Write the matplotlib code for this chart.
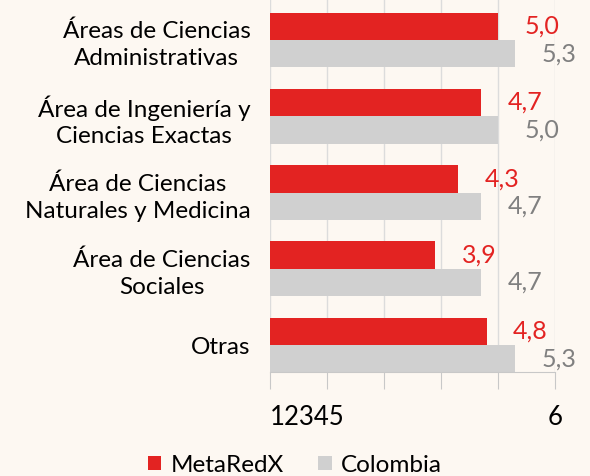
import matplotlib
matplotlib.use("Agg")
import matplotlib.pyplot as plt
import numpy as np

categories = ["Áreas de Ciencias\nAdministrativas",
              "Área de Ingeniería y\nCiencias Exactas",
              "Área de Ciencias\nNaturales y Medicina",
              "Área de Ciencias\nSociales",
              "Otras"]
metaredx = [5.0, 4.7, 4.3, 3.9, 4.8]
colombia = [5.3, 5.0, 4.7, 4.7, 5.3]
xticks = [1, 2, 3, 4, 5, 6]
xtick_labels = ["12345", "", "", "", "", "6"]

bg = "#FDF8F2"
red = "#E32322"
grey = "#D0D0D0"

plt.rcParams['font.family'] = ['Lato', 'DejaVu Sans']

fig = plt.figure(figsize=(5.9, 4.76), dpi=100, facecolor=bg)
ax = fig.add_axes([0.4576, 0.2185, 0.483, 0.7815], facecolor=bg)

y = np.arange(len(categories))
h = 0.36
ax.barh(y - h / 2, metaredx, height=h, color=red, label="MetaRedX", zorder=2)
ax.barh(y + h / 2, colombia, height=h, color=grey, label="Colombia", zorder=2)

for yi, v in zip(y, metaredx):
    ax.annotate(f"{v:.1f}".replace(".", ","), (v, yi - h / 2), xytext=(19, 0),
                textcoords="offset points", ha="left", va="center",
                fontsize=18, color=red)
for yi, v in zip(y, colombia):
    ax.annotate(f"{v:.1f}".replace(".", ","), (v, yi + h / 2), xytext=(19, 0),
                textcoords="offset points", ha="left", va="center",
                fontsize=18, color="#808080")

ax.set_xlim(1, 6)
ax.set_ylim(4.354, -0.525)
ax.set_yticks(y)
ax.set_yticklabels(categories, fontsize=17.5, multialignment="center",
                   linespacing=1.35)
ax.tick_params(axis="y", length=0, pad=14)

ax.set_xticks(xticks)
ax.set_xticklabels(xtick_labels, fontsize=18.5)
for lbl in ax.get_xticklabels():
    if lbl.get_text() == "12345":
        lbl.set_horizontalalignment("left")
ax.tick_params(axis="x", length=12, color="#C8C8C8", pad=12)
ax.grid(axis="x", color="#DCDCDC", linewidth=1, zorder=0)

for s in ["top", "right", "left"]:
    ax.spines[s].set_visible(False)
ax.spines["bottom"].set_color("#C8C8C8")

fig.legend(loc="lower center", bbox_to_anchor=(0.5, -0.045), ncol=2, frameon=False,
           fontsize=17.5, handlelength=0.55, handleheight=0.55, handletextpad=0.4,
           columnspacing=1.4)

fig.savefig("out.png", dpi=100, facecolor=bg)
